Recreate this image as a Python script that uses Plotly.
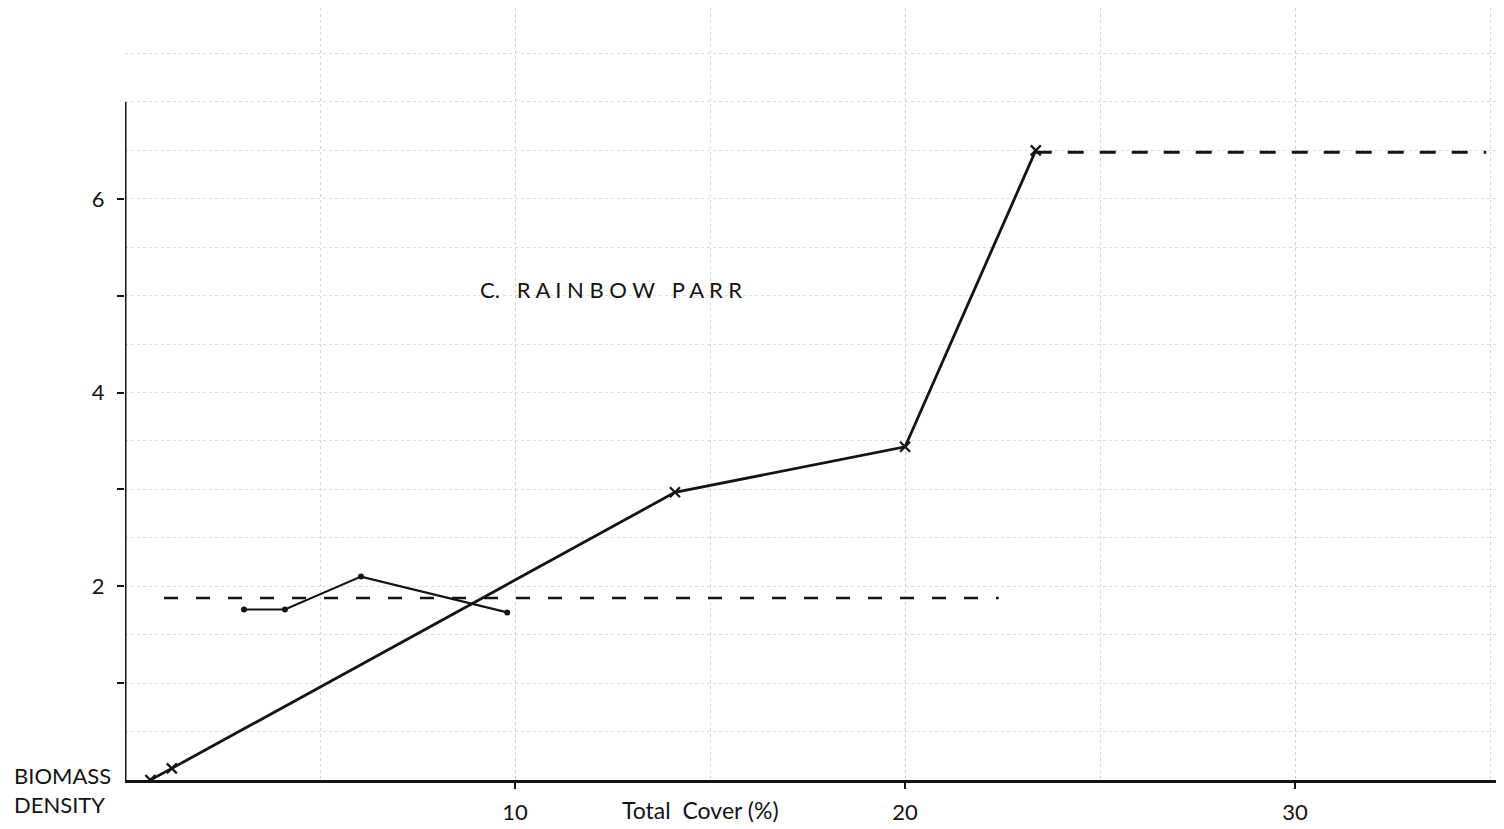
import plotly.graph_objects as go

# main series (x markers, solid)
cover_main = [0.65, 1.2, 14.1, 20.0, 23.35]
biomass_main = [0.0, 0.12, 2.97, 3.44, 6.5]

# secondary series (dots, thin solid)
cover_dots = [3.05, 4.1, 6.05, 9.8]
biomass_dots = [1.76, 1.76, 2.1, 1.73]

# dashed mean levels
low_mean_x = [1.0, 22.4]
low_mean_y = [1.88, 1.88]
high_mean_x = [23.35, 34.9]
high_mean_y = [6.48, 6.48]

x_ticks = [10, 20, 30]
y_ticks = [1, 2, 3, 4, 5, 6]
y_ticktext = ["", "2", "", "4", "", "6"]

INK = "#141414"
FONT = "Lato, 'Noto Sans', sans-serif"

# page puts an 8px body margin around the figure
X_MAX = 35.56
Y_MAX = 7.97
Y_AXIS_TOP = 7.0

fig = go.Figure()

fig.add_trace(go.Scatter(
    x=low_mean_x, y=low_mean_y, mode="lines",
    line=dict(color=INK, width=2.5, dash="14px,18px"),
    showlegend=False,
))
fig.add_trace(go.Scatter(
    x=high_mean_x, y=high_mean_y, mode="lines",
    line=dict(color=INK, width=3, dash="16px,16px"),
    showlegend=False,
))
fig.add_trace(go.Scatter(
    x=cover_dots, y=biomass_dots, mode="lines+markers",
    line=dict(color=INK, width=2.2),
    marker=dict(symbol="circle", size=6, color=INK),
    showlegend=False,
))
fig.add_trace(go.Scatter(
    x=cover_main, y=biomass_main, mode="lines+markers",
    line=dict(color=INK, width=2.8),
    marker=dict(symbol="x-thin", size=10, line=dict(color=INK, width=2.2)),
    showlegend=False,
))

# y axis line only reaches 7
fig.add_shape(type="line", x0=0, x1=0, y0=0, y1=Y_AXIS_TOP,
              xref="x", yref="y", line=dict(color=INK, width=3))

fig.add_annotation(
    x=12.45, y=5.06, xref="x", yref="y",
    text="C.&nbsp;&nbsp;&nbsp;R A I N B O W&nbsp;&nbsp;&nbsp;P A R R",
    showarrow=False, font=dict(family=FONT, size=22, color=INK),
)
fig.add_annotation(
    x=-0.0815, y=-0.0136, xref="paper", yref="paper",
    text="BIOMASS<br>DENSITY", align="left", xanchor="left", yanchor="middle",
    showarrow=False, font=dict(family=FONT, size=22, color=INK),
)
fig.add_annotation(
    x=14.75, y=-0.0395, xref="x", yref="paper",
    text="Total&nbsp;&nbsp;Cover (%)", yanchor="middle",
    showarrow=False, font=dict(family=FONT, size=23, color=INK),
)

fig.update_layout(
    width=1504, height=829,
    margin=dict(l=117, r=0, t=0, b=57),
    paper_bgcolor="white", plot_bgcolor="white",
    font=dict(family=FONT, size=22, color=INK),
    xaxis=dict(
        range=[0, X_MAX], showline=True, linecolor=INK, linewidth=3,
        tickvals=x_ticks, ticks="outside", ticklen=6, tickwidth=2, tickcolor=INK,
        ticklabelstandoff=5, tickfont=dict(size=22),
        showgrid=True, gridcolor="#cfcfcf", griddash="dot", gridwidth=1,
        zeroline=False,
    ),
    yaxis=dict(
        range=[0, Y_MAX], showline=False,
        tickvals=y_ticks, ticktext=y_ticktext,
        ticks="outside", ticklen=7, tickwidth=2, tickcolor=INK,
        ticklabelstandoff=8, tickfont=dict(size=22),
        showgrid=False, zeroline=False,
    ),
)

# faint graph-paper grid
fig.update_xaxes(minor=dict(dtick=5, tick0=0, showgrid=True, gridcolor="#d8d8d8", griddash="dot"))
fig.update_yaxes(minor=dict(dtick=0.5, tick0=0, showgrid=True, gridcolor="#dddddd", griddash="dot"))

fig.write_html("out.html")
